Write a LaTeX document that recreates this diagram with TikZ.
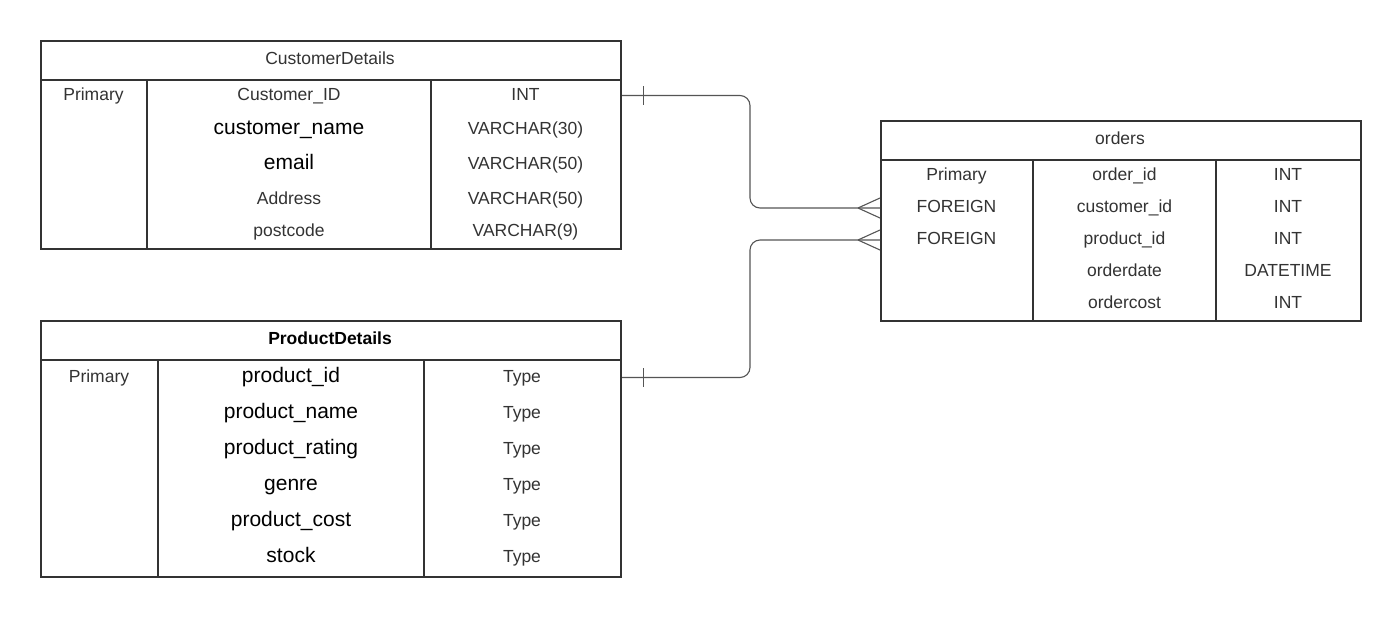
\documentclass[tikz,border=0pt]{standalone}
\usepackage{fontspec}
\setmainfont{Liberation Sans}
\usetikzlibrary{calc}
\definecolor{boxline}{HTML}{333333}
\definecolor{txtgray}{HTML}{333333}
\definecolor{connline}{HTML}{555555}
\tikzset{
  tbl/.style={draw=boxline, line width=2pt, rectangle, inner sep=0pt, anchor=north west, fill=white},
  tline/.style={draw=boxline, line width=2pt},
  sm/.style={font=\fontsize{17.5}{20}\selectfont, text=txtgray, inner sep=0pt, text height=0.75em, text depth=0.25em, yshift=-3.5pt},
  big/.style={font=\fontsize{21}{24}\selectfont, text=black, inner sep=0pt, text height=0.75em, text depth=0.25em, yshift=-3.5pt},
  hdrb/.style={font=\fontsize{17.5}{20}\selectfont\bfseries, text=black, inner sep=0pt, text height=0.75em, text depth=0.25em, yshift=-3.5pt},
  conn/.style={draw=connline, line width=1.1pt, rounded corners=10pt},
  endmark/.style={draw=connline, line width=1.1pt},
}
\begin{document}
\begin{tikzpicture}[x=1pt,y=-1pt]
\useasboundingbox[fill=white] (0,0) rectangle (1400,616);

% ---------- CustomerDetails ----------
\node[tbl, minimum width=580pt, minimum height=208pt] (cust) at (40,40) {};
\draw[tline] (40,80) -- (620,80);
\draw[tline] (147,80) -- (147,248);
\draw[tline] (431,80) -- (431,248);
\node[sm] (custh) at (330,58) {CustomerDetails};
\node[sm] (c11) at (93.5,94) {Primary};
\node[sm] (c12) at (289,94) {Customer\_ID};
\node[sm] (c13) at (525.5,94) {INT};
\node[big] (c22) at (289,128) {customer\_name};
\node[sm] (c23) at (525.5,128) {VARCHAR(30)};
\node[big] (c32) at (289,163) {email};
\node[sm] (c33) at (525.5,163) {VARCHAR(50)};
\node[sm] (c42) at (289,198) {Address};
\node[sm] (c43) at (525.5,198) {VARCHAR(50)};
\node[sm] (c52) at (289,230) {postcode};
\node[sm] (c53) at (525.5,230) {VARCHAR(9)};

% ---------- ProductDetails ----------
\node[tbl, minimum width=580pt, minimum height=256pt] (prod) at (40,320) {};
\draw[tline] (40,360) -- (620,360);
\draw[tline] (158,360) -- (158,576);
\draw[tline] (424,360) -- (424,576);
\node[hdrb] (prodh) at (330,338) {ProductDetails};
\node[sm] (p11) at (99,376) {Primary};
\node[big] (p12) at (291,376) {product\_id};
\node[sm] (p13) at (522,376) {Type};
\node[big] (p22) at (291,412) {product\_name};
\node[sm] (p23) at (522,412) {Type};
\node[big] (p32) at (291,448) {product\_rating};
\node[sm] (p33) at (522,448) {Type};
\node[big] (p42) at (291,484) {genre};
\node[sm] (p43) at (522,484) {Type};
\node[big] (p52) at (291,520) {product\_cost};
\node[sm] (p53) at (522,520) {Type};
\node[big] (p62) at (291,556) {stock};
\node[sm] (p63) at (522,556) {Type};

% ---------- orders ----------
\node[tbl, minimum width=480pt, minimum height=200pt] (ord) at (880,120) {};
\draw[tline] (880,160) -- (1360,160);
\draw[tline] (1033,160) -- (1033,320);
\draw[tline] (1216,160) -- (1216,320);
\node[sm] (oh) at (1120,138) {orders};
\node[sm] (o11) at (956.5,174) {Primary};
\node[sm] (o12) at (1124.5,174) {order\_id};
\node[sm] (o13) at (1288,174) {INT};
\node[sm] (o21) at (956.5,206) {FOREIGN};
\node[sm] (o22) at (1124.5,206) {customer\_id};
\node[sm] (o23) at (1288,206) {INT};
\node[sm] (o31) at (956.5,238) {FOREIGN};
\node[sm] (o32) at (1124.5,238) {product\_id};
\node[sm] (o33) at (1288,238) {INT};
\node[sm] (o42) at (1124.5,270) {orderdate};
\node[sm] (o43) at (1288,270) {DATETIME};
\node[sm] (o52) at (1124.5,302) {ordercost};
\node[sm] (o53) at (1288,302) {INT};

% ---------- connectors ----------
\coordinate (ca) at ($(cust.north east)+(0,55.5)$);
\coordinate (oa) at ($(ord.north west)+(0,88)$);
\coordinate (pa) at ($(prod.north east)+(0,57.5)$);
\coordinate (ob) at ($(ord.north west)+(0,120)$);

\draw[conn] (ca) -- (750,95.5) -- (750,208) -- (oa);
\draw[conn] (pa) -- (750,377.5) -- (750,240) -- (ob);

% one marks
\draw[endmark] ($(ca)+(21.5,-9.5)$) -- ($(ca)+(21.5,9.5)$);
\draw[endmark] ($(pa)+(21.5,-9.5)$) -- ($(pa)+(21.5,9.5)$);
% crow's feet
\draw[endmark] ($(oa)+(-22,0)$) -- ($(oa)+(0,-10)$);
\draw[endmark] ($(oa)+(-22,0)$) -- ($(oa)+(0,10)$);
\draw[endmark] ($(ob)+(-22,0)$) -- ($(ob)+(0,-10)$);
\draw[endmark] ($(ob)+(-22,0)$) -- ($(ob)+(0,10)$);
\end{tikzpicture}
\end{document}
